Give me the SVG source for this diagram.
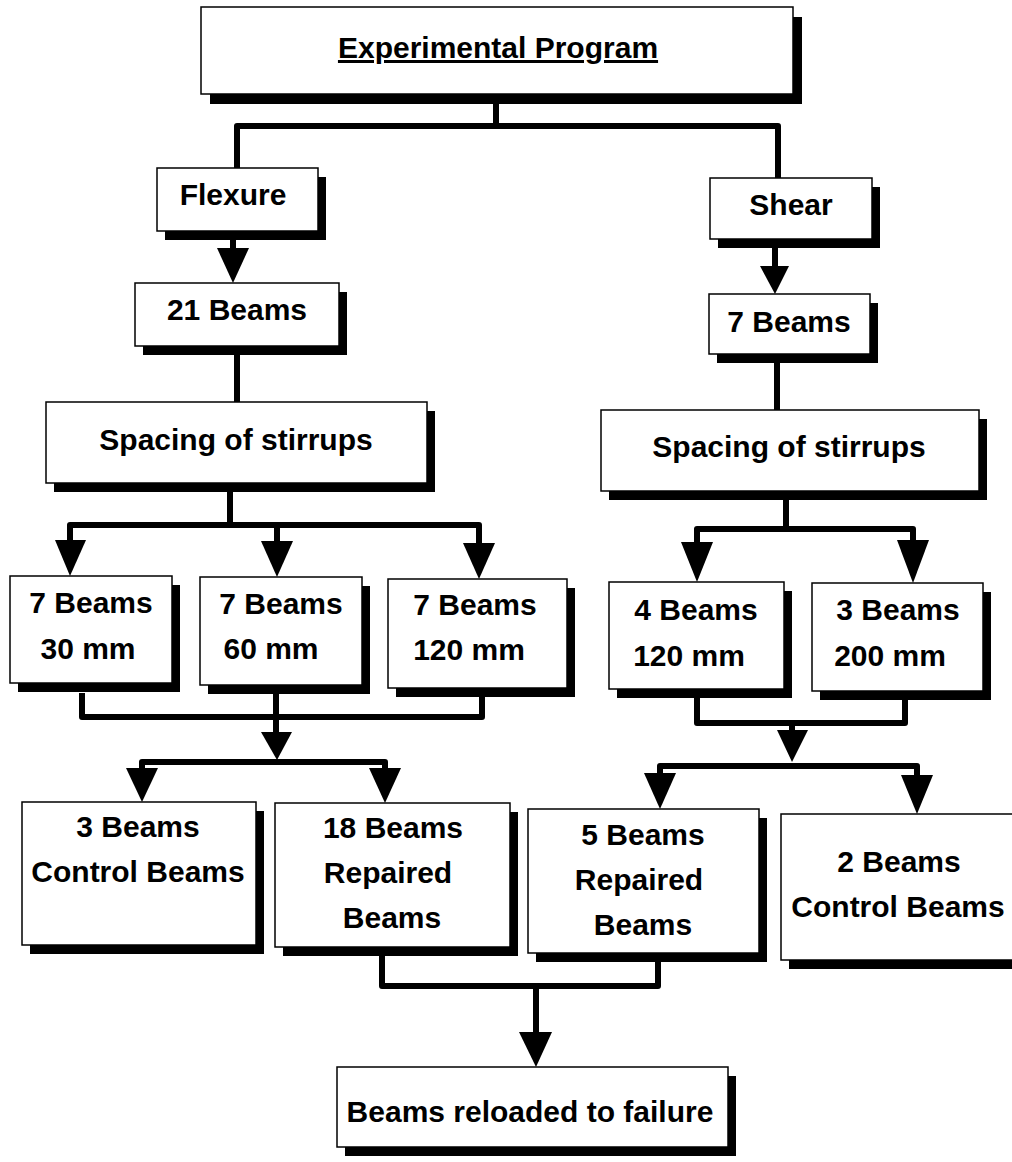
<svg xmlns="http://www.w3.org/2000/svg" width="1012" height="1162" viewBox="0 0 1012 1162">
<style>
.box{fill:#fff;stroke:#000;stroke-width:1.5}
.sh{fill:#000}
text{font-family:"Liberation Sans",Arial,sans-serif;font-weight:bold;font-size:30px;fill:#000;text-anchor:middle}
.c{fill:none;stroke:#000;stroke-width:6;stroke-linejoin:round}
.ah{fill:#000}
</style>
<rect width="1012" height="1162" fill="#fff"/>
<g id="connectors">
<path class="c" d="M496,103 V126 M237,168 V126 H778 V178"/>
<path class="c" d="M233,240 V252"/>
<polygon class="ah" points="217,248 249,248 233,283"/>
<path class="c" d="M237,354 V402"/>
<path class="c" d="M230,492 V525 M70,545 V525 H479 V545 M277,525 V545"/>
<polygon class="ah" points="55,540 86,540 70,576"/>
<polygon class="ah" points="261,541 293,541 277,577"/>
<polygon class="ah" points="463,543 495,543 479,579"/>
<path class="c" d="M82,693 V717 H482 V697 M276,694 V735"/>
<polygon class="ah" points="261,732 292,732 277,760"/>
<path class="c" d="M142,772 V762 H385 V772"/>
<polygon class="ah" points="126,768 158,768 142,802"/>
<polygon class="ah" points="369,768 401,768 385,803"/>
<path class="c" d="M775,248 V268"/>
<polygon class="ah" points="760,266 789,266 775,294"/>
<path class="c" d="M777,363 V410"/>
<path class="c" d="M786,500 V529 M697,545 V529 H913 V545"/>
<polygon class="ah" points="681,542 713,542 697,582"/>
<polygon class="ah" points="897,540 929,540 913,583"/>
<path class="c" d="M697,689 V723 H905 V698 M792,723 V735"/>
<polygon class="ah" points="777,730 808,730 792,762"/>
<path class="c" d="M660,776 V766 H917 V776"/>
<polygon class="ah" points="644,773 676,773 660,809"/>
<polygon class="ah" points="901,775 933,775 917,814"/>
<path class="c" d="M382,955 V986 H658 V962 M536,986 V1035"/>
<polygon class="ah" points="519,1032 552,1032 536,1067"/>
</g>
<g id="node-top"><rect class="sh" x="210" y="17" width="592" height="87"/><rect class="box" x="201" y="7" width="592" height="87"/><text x="498" y="58" text-decoration="underline">Experimental Program</text></g>
<g id="node-flexure"><rect class="sh" x="165" y="177" width="161" height="63"/><rect class="box" x="157" y="168" width="161" height="63"/><text x="233" y="205">Flexure</text></g>
<g id="node-21beams"><rect class="sh" x="143" y="292" width="204" height="63"/><rect class="box" x="135" y="283" width="204" height="63"/><text x="237" y="320">21 Beams</text></g>
<g id="node-spacing-left"><rect class="sh" x="54" y="411" width="381" height="81"/><rect class="box" x="46" y="402" width="381" height="81"/><text x="236" y="450">Spacing of stirrups</text></g>
<g id="node-shear"><rect class="sh" x="718" y="187" width="162" height="61"/><rect class="box" x="710" y="178" width="162" height="61"/><text x="791" y="215">Shear</text></g>
<g id="node-7beams"><rect class="sh" x="717" y="303" width="161" height="60"/><rect class="box" x="709" y="294" width="161" height="60"/><text x="789" y="332">7 Beams</text></g>
<g id="node-spacing-right"><rect class="sh" x="609" y="419" width="378" height="81"/><rect class="box" x="601" y="410" width="378" height="81"/><text x="789" y="457">Spacing of stirrups</text></g>
<g id="node-30mm"><rect class="sh" x="18" y="585" width="162" height="107"/><rect class="box" x="10" y="576" width="162" height="107"/><text x="91" y="613">7 Beams</text><text x="88" y="659">30 mm</text></g>
<g id="node-60mm"><rect class="sh" x="208" y="586" width="162" height="108"/><rect class="box" x="200" y="577" width="162" height="108"/><text x="281" y="614">7 Beams</text><text x="271" y="659">60 mm</text></g>
<g id="node-120mm-left"><rect class="sh" x="396" y="588" width="179" height="109"/><rect class="box" x="388" y="579" width="179" height="109"/><text x="475" y="615">7 Beams</text><text x="469" y="660">120 mm</text></g>
<g id="node-120mm-right"><rect class="sh" x="617" y="591" width="175" height="107"/><rect class="box" x="609" y="582" width="175" height="107"/><text x="696" y="620">4 Beams</text><text x="689" y="666">120 mm</text></g>
<g id="node-200mm"><rect class="sh" x="820" y="592" width="171" height="108"/><rect class="box" x="812" y="583" width="171" height="108"/><text x="898" y="620">3 Beams</text><text x="890" y="666">200 mm</text></g>
<g id="node-control-left"><rect class="sh" x="30" y="811" width="234" height="143"/><rect class="box" x="22" y="802" width="234" height="143"/><text x="138" y="837">3 Beams</text><text x="138" y="882">Control Beams</text></g>
<g id="node-repaired-18"><rect class="sh" x="283" y="812" width="235" height="144"/><rect class="box" x="275" y="803" width="235" height="144"/><text x="393" y="838">18 Beams</text><text x="388" y="883">Repaired</text><text x="392" y="928">Beams</text></g>
<g id="node-repaired-5"><rect class="sh" x="536" y="818" width="231" height="144"/><rect class="box" x="528" y="809" width="231" height="144"/><text x="643" y="845">5 Beams</text><text x="639" y="890">Repaired</text><text x="643" y="935">Beams</text></g>
<g id="node-control-right"><rect class="sh" x="789" y="823" width="249" height="146"/><rect class="box" x="781" y="814" width="249" height="146"/><text x="899" y="872">2 Beams</text><text x="898" y="917">Control Beams</text></g>
<g id="node-reload"><rect class="sh" x="345" y="1076" width="391" height="80"/><rect class="box" x="337" y="1067" width="391" height="80"/><text x="530" y="1122">Beams reloaded to failure</text></g>
</svg>
